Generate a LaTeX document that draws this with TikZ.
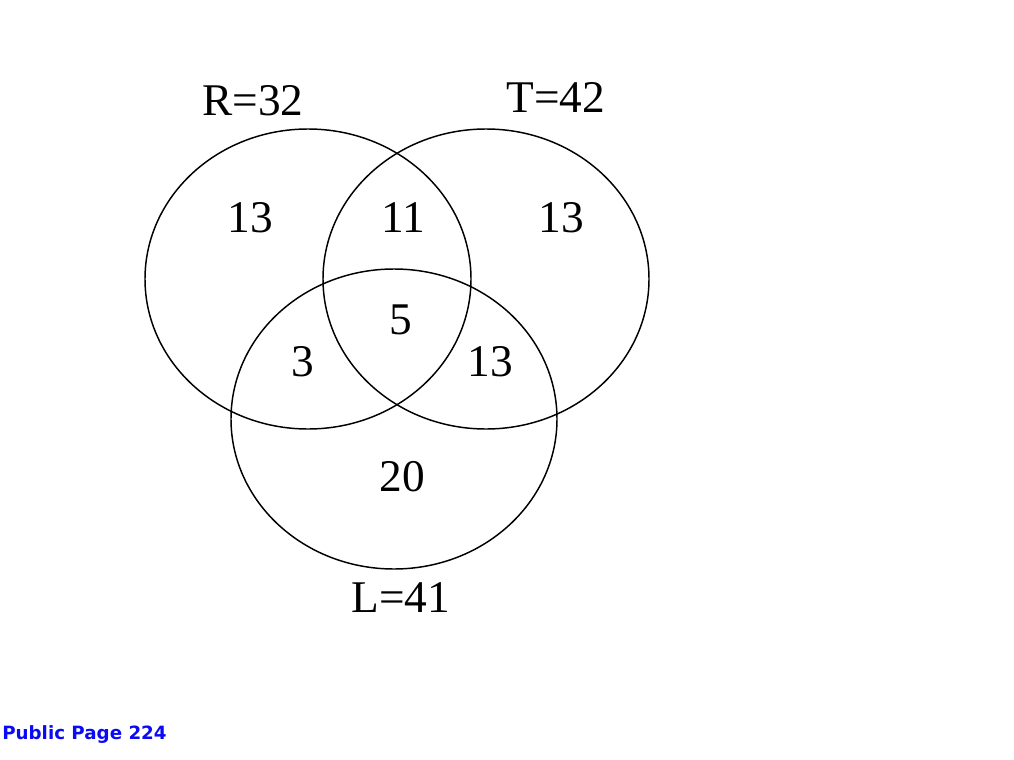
\documentclass[tikz,border=0pt]{standalone}
\usepackage{fontspec}
\setmainfont{Liberation Serif}
\newfontfamily\pagefont{DejaVu Sans}
\definecolor{pageblue}{RGB}{10,10,245}

\begin{document}
\begin{tikzpicture}[x=0.75pt, y=-0.75pt,
    setline/.style={line width=1.1pt},
    setlabel/.style={font=\fontsize{34}{36}\selectfont},
    count/.style={font=\fontsize{34}{36}\selectfont}]
  % page frame (1014 x 760 px)
  \useasboundingbox (0,0) rectangle (1014,760);

  % --- the three sets ---
  % centers (px): R=(308,279), T=(486,279), L=(394,419); radii 163 x 150
  \draw[setline] (308,279) ellipse[x radius=163, y radius=150];
  \draw[setline] (486,279) ellipse[x radius=163, y radius=150];
  \draw[setline] (394,419) ellipse[x radius=163, y radius=150];

  % --- set names ---
  \node[setlabel] (rname) at (253,101) {R=32};
  \node[setlabel] (tname) at (556,97) {T=42};
  \node[setlabel] (lname) at (401,598) {L=41};

  % --- region counts ---
  \node[count] (ronly)  at (250,218) {13};
  \node[count] (rt)     at (403,218) {11};
  \node[count] (tonly)  at (561,218) {13};
  \node[count] (rtl)    at (401,320) {5};
  \node[count] (rl)     at (303,362) {3};
  \node[count] (tl)     at (490,362) {13};
  \node[count] (lonly)  at (402,477) {20};

  % --- footer ---
  \node[anchor=west, text=pageblue, inner sep=0pt,
        font=\pagefont\bfseries\fontsize{13.7}{15}\selectfont] (page) at (2,735) {Public Page 224};
\end{tikzpicture}
\end{document}
